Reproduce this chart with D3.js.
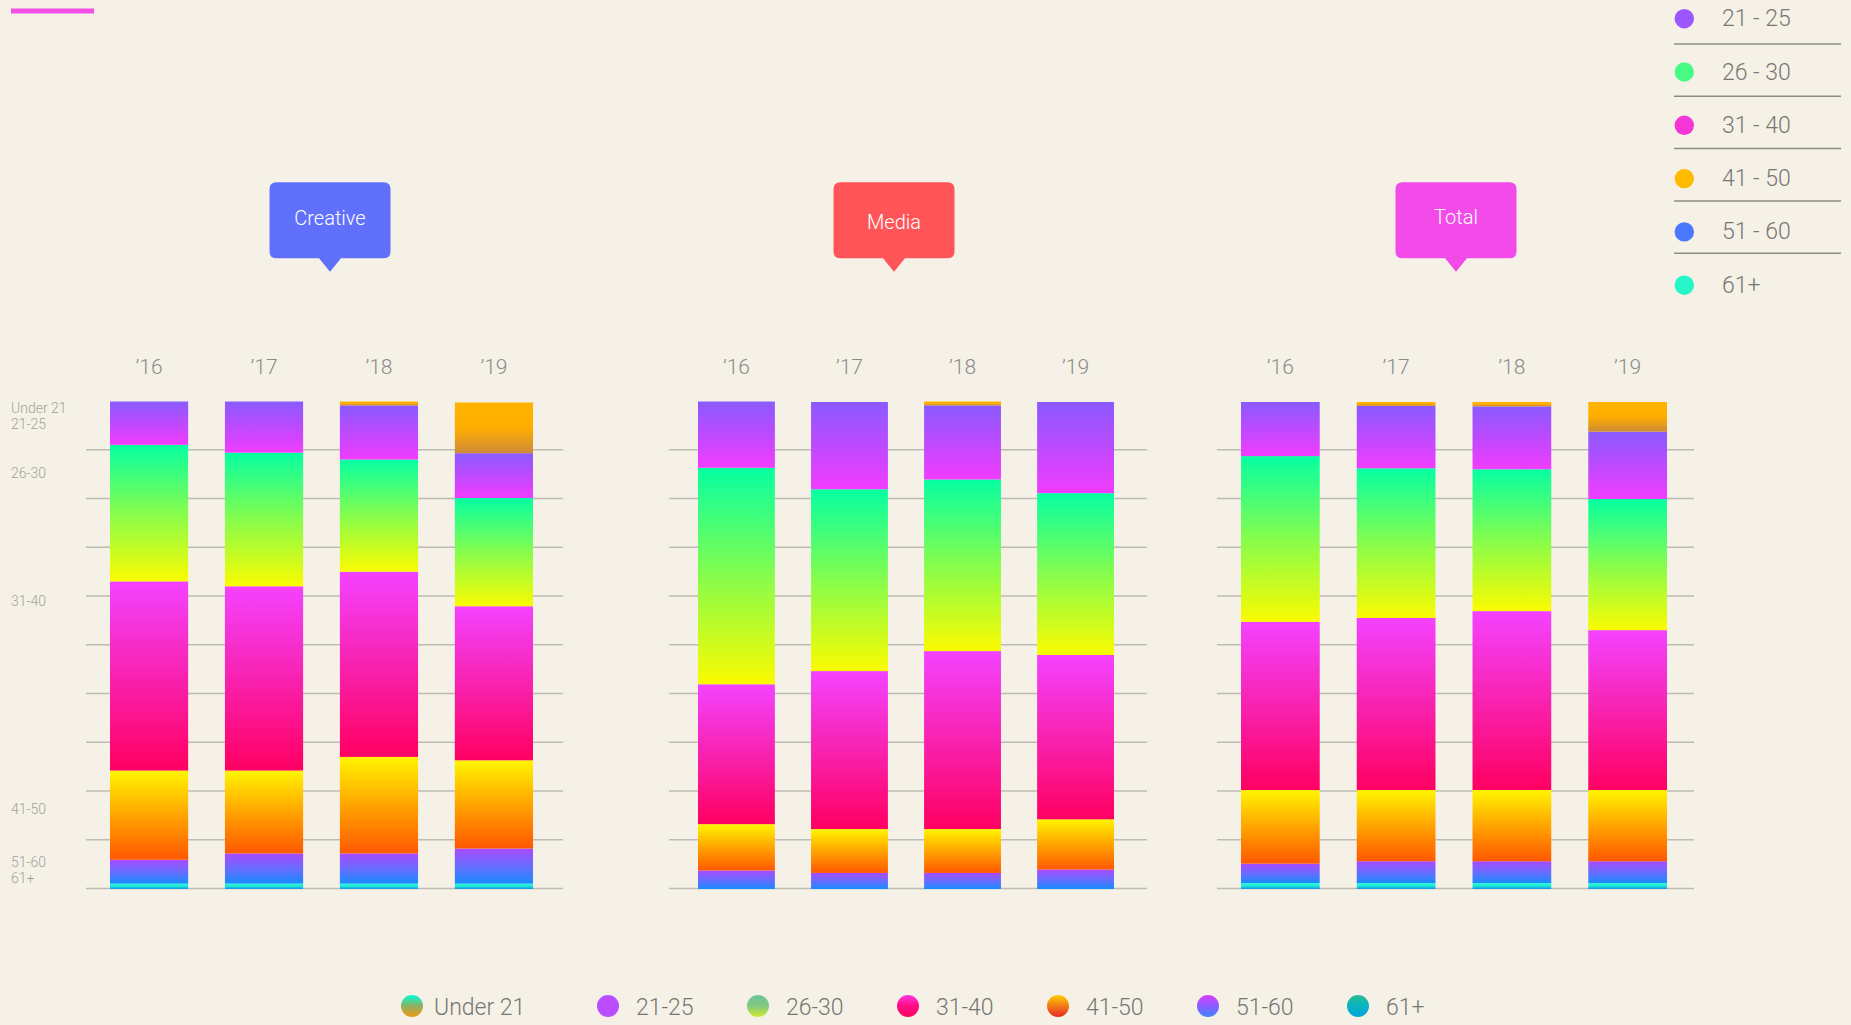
<!DOCTYPE html>
<html>
<head>
<meta charset="utf-8">
<script src="https://cdn.jsdelivr.net/npm/d3@7"></script>
<style>
  html, body { margin: 0; padding: 0; background: #f5f1e6; }
  svg { display: block; font-family: Roboto, Inter, "Noto Sans", sans-serif; }
</style>
</head>
<body>
<svg id="chart" width="1851" height="1025"></svg>
<script>
// ---- data -------------------------------------------------------------
const years = ["’16", "’17", "’18", "’19"];
const groups = ["Creative", "Media", "Total"];
const ageBands = ["Under 21", "21-25", "26-30", "31-40", "41-50", "51-60", "61+"];

// share of staff (%) per age band, one row per year, bands in ageBands order
const creativeShares = [
  [0.0,  8.9, 28.0, 38.8, 18.3, 4.9, 1.1],
  [0.0, 10.5, 27.4, 37.8, 17.0, 6.2, 1.1],
  [0.8, 11.1, 23.0, 38.0, 19.8, 6.2, 1.1],
  [10.4, 9.2, 22.2, 31.6, 18.1, 7.2, 1.1]
];
const mediaShares = [
  [0.0, 13.6, 44.4, 28.7,  9.5, 3.8, 0.0],
  [0.0, 17.9, 37.3, 32.4,  9.0, 3.3, 0.0],
  [0.8, 15.2, 35.2, 36.5,  9.0, 3.3, 0.0],
  [0.0, 18.7, 33.2, 33.7, 10.3, 4.0, 0.0]
];
const totalShares = [
  [0.0, 11.1, 34.0, 34.5, 15.1, 4.0, 1.2],
  [0.8, 12.8, 30.7, 35.3, 14.6, 4.5, 1.2],
  [0.9, 12.9, 29.1, 36.7, 14.6, 4.5, 1.2],
  [6.1, 13.8, 26.9, 32.8, 14.6, 4.5, 1.2]
];

// left-hand band labels and the share value each one sits at
const axisLabels = ["Under 21", "21-25", "26-30", "31-40", "41-50", "51-60", "61+"];
const axisLabelAt = [98.6, 95.3, 85.4, 59.1, 16.4, 5.6, 2.3];
const gridValues = [0, 10, 20, 30, 40, 50, 60, 70, 80, 90];

// side legend (spaced labels)
const sideLegend = ["21 - 25", "26 - 30", "31 - 40", "41 - 50", "51 - 60", "61+"];

// ---- styles -----------------------------------------------------------
const segmentStops = {
  "Under 21": ["#ffb300", "#ffad00", "#cd8a38"],
  "21-25":    ["#8a5bff", "#bd4aff", "#f23cff"],
  "26-30":    ["#06ffa2", "#86fd4c", "#fbfb00"],
  "31-40":    ["#f442ff", "#f822b0", "#ff0062"],
  "41-50":    ["#fff500", "#ffa400", "#ff5800"],
  "51-60":    ["#a84aff", "#6a6cff", "#168cff"],
  "61+":      ["#22ffd0", "#1ee6d8", "#1290e6"]
};
const legendStops = {
  "Under 21": ["#00ffd6", "#90ae62", "#f29a0e"],
  "21-25":    ["#b94dff", "#b94dff", "#b94dff"],
  "26-30":    ["#6bc39a", "#82c982", "#d2ec2c"],
  "31-40":    ["#ff38e2", "#ff0c86", "#ff0060"],
  "41-50":    ["#ffcf00", "#f27a18", "#e42822"],
  "51-60":    ["#d83cff", "#8a5cff", "#3d88ff"],
  "61+":      ["#2cba8c", "#08b4c4", "#00a6da"]
};
const sideColors = ["#9d55ff", "#47fb84", "#f436d6", "#ffbb00", "#4a78ff", "#25f7c9"];
const groupColors = { Creative: "#6170fb", Media: "#ff5558", Total: "#f24be9" };

// panel geometry (tag label offsets nudge each caption inside its box)
const panels = [
  { name: "Creative", shares: creativeShares, grid: [86, 563],   bars: [110, 533],  tag: 330,  labelDy: 36 },
  { name: "Media",    shares: mediaShares,    grid: [669, 1147], bars: [698, 1114], tag: 894,  labelDy: 39.4 },
  { name: "Total",    shares: totalShares,    grid: [1217, 1694], bars: [1241, 1667], tag: 1456, labelDy: 35 }
];

const svg = d3.select("#chart");
const defs = svg.append("defs");

function addGradient(id, stops) {
  const g = defs.append("linearGradient")
    .attr("id", id).attr("x1", 0).attr("y1", 0).attr("x2", 0).attr("y2", 1);
  stops.forEach((c, i) => g.append("stop")
    .attr("offset", (i / (stops.length - 1)) * 100 + "%")
    .attr("stop-color", c));
}
const slug = s => s.replace(/[^a-z0-9]/gi, "");
ageBands.forEach(b => {
  addGradient("seg-" + slug(b), segmentStops[b]);
  addGradient("leg-" + slug(b), legendStops[b]);
});

// accent bar
svg.append("rect").attr("x", 11).attr("y", 8.5).attr("width", 83).attr("height", 5)
  .attr("fill", "#f24ee8");

const y = d3.scaleLinear().domain([0, 100]).range([889, 401.5]);

// stack from the oldest band at the bottom up to the youngest at the top
const stackKeys = ageBands.slice().reverse();
const stack = d3.stack().keys(stackKeys);

panels.forEach(p => {
  const g = svg.append("g");
  const x = d3.scaleBand().domain(years).range(p.bars).paddingInner(0.32).paddingOuter(0);

  // gridlines
  g.append("g").selectAll("line").data(gridValues).join("line")
    .attr("x1", p.grid[0]).attr("x2", p.grid[1])
    .attr("y1", d => y(d) - 0.5).attr("y2", d => y(d) - 0.5)
    .attr("stroke", "#bdbbb5").attr("stroke-width", 1.6);

  const rows = p.shares.map((r, i) => {
    const o = { year: years[i] };
    ageBands.forEach((b, j) => o[b] = r[j]);
    return o;
  });
  const series = stack(rows);

  g.append("g").selectAll("g").data(series).join("g")
    .attr("fill", s => `url(#seg-${slug(s.key)})`)
    .selectAll("rect").data(s => s.filter(d => d[1] - d[0] > 0)).join("rect")
    .attr("x", d => x(d.data.year))
    .attr("width", x.bandwidth())
    .attr("y", d => y(d[1]))
    .attr("height", d => y(d[0]) - y(d[1]));

  // year labels
  g.append("g").selectAll("text").data(years).join("text")
    .attr("x", d => x(d) + x.bandwidth() / 2)
    .attr("y", 367)
    .attr("text-anchor", "middle").attr("dominant-baseline", "central")
    .attr("font-size", 21).attr("font-weight", 300).attr("fill", "#8a8a8a")
    .text(d => d);

  // group tag with pointer
  const bw = 121, bh = 76, top = 182.3, r = 7, c = p.tag;
  const l = c - bw / 2, rr = c + bw / 2, b = top + bh;
  const path = `M${l + r},${top} H${rr - r} Q${rr},${top} ${rr},${top + r} V${b - r} Q${rr},${b} ${rr - r},${b}`
    + ` H${c + 11} L${c},${b + 13.5} L${c - 11},${b} H${l + r} Q${l},${b} ${l},${b - r} V${top + r} Q${l},${top} ${l + r},${top} Z`;
  g.append("path").attr("d", path).attr("fill", groupColors[p.name]);
  g.append("text")
    .attr("x", c).attr("y", top + p.labelDy)
    .attr("text-anchor", "middle").attr("dominant-baseline", "central")
    .attr("font-size", 20).attr("font-weight", 300).attr("fill", "#ffffff")
    .text(p.name);
});

// band labels down the left edge
svg.append("g").selectAll("text").data(axisLabels).join("text")
  .attr("x", 11).attr("y", (d, i) => y(axisLabelAt[i]))
  .attr("dominant-baseline", "central")
  .attr("font-size", 14).attr("font-weight", 300).attr("fill", "#a3a19c")
  .text(d => d);

// side legend, top right
const side = svg.append("g");
side.selectAll("line").data(sideLegend.slice(0, -1)).join("line")
  .attr("x1", 1674).attr("x2", 1841)
  .attr("y1", (d, i) => 44 + i * 52.3).attr("y2", (d, i) => 44 + i * 52.3)
  .attr("stroke", "#8c8b88").attr("stroke-width", 1.5);
side.selectAll("circle").data(sideLegend).join("circle")
  .attr("cx", 1684.3).attr("cy", (d, i) => 18.7 + i * 53.3).attr("r", 9.7)
  .attr("fill", (d, i) => sideColors[i]);
side.selectAll("text").data(sideLegend).join("text")
  .attr("x", 1722).attr("y", (d, i) => 18.7 + i * 53.3)
  .attr("dominant-baseline", "central")
  .attr("font-size", 23).attr("font-weight", 300).attr("fill", "#787774")
  .text(d => d);

// bottom legend
const legX = i => i === 0 ? 412 : 608 + (i - 1) * 150;
const bottom = svg.append("g").selectAll("g").data(ageBands).join("g")
  .attr("transform", (d, i) => `translate(${legX(i)},1006)`);
bottom.append("circle").attr("r", 11).attr("fill", d => `url(#leg-${slug(d)})`);
bottom.append("text")
  .attr("x", (d, i) => i === 0 ? 22 : 28)
  .attr("y", 1)
  .attr("dominant-baseline", "central")
  .attr("font-size", 23).attr("font-weight", 300).attr("fill", "#777673")
  .text(d => d);
</script>
</body>
</html>
